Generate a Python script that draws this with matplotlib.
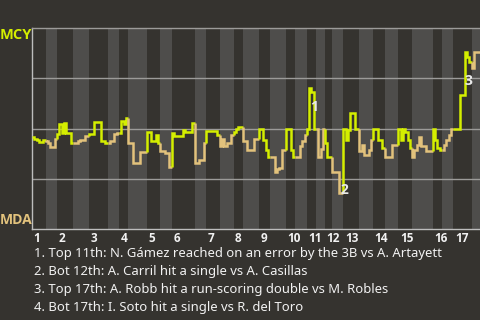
import matplotlib
matplotlib.use("Agg")
import matplotlib.pyplot as plt
import numpy as np

# ---------------- data ----------------
innings = [str(i) for i in range(1, 18)]
# number of plays in each half-inning (top, bottom)
top_plays = [6, 7, 8, 4, 6, 10, 6, 4, 5, 4, 4, 3, 7, 5, 6, 4, 8]
bot_plays = [5, 7, 5, 8, 5, 5, 6, 7, 7, 5, 4, 5, 6, 6, 9, 5, 7]
teams = ["MCY", "MDA"]  # top half batting team, bottom half batting team

# MCY win probability (%) after each play
wp_mcy = [
    46, 45, 44.5, 43.5, 43.5, 44.5,                       # 1T
    44, 43, 41, 41, 45,                                   # 1B
    47.5, 52, 48, 52.5, 48, 48, 43,                       # 2T
    43, 43, 44, 44.5, 44.5, 46.5, 46.5,                   # 2B
    47.5, 47.5, 53, 53, 53, 44, 44, 43,                   # 3T
    43, 44, 44, 47.5, 48,                                 # 3B
    48, 53.5, 52, 55,                                     # 4T
    43, 43, 33, 33, 33, 38.5, 38.5, 38.5,                 # 4B
    48.2, 48.2, 43.7, 43.7, 47, 42.8,                     # 5T
    38.6, 38.6, 37.7, 37.7, 31,                           # 5B
    47.6, 46.3, 46.3, 46.3, 46.3, 49.3, 48.4, 48.4, 48.4, 52.6,  # 6T
    32.7, 32.7, 34.3, 34.3, 42.8,                         # 6B
    48.9, 48.9, 48.9, 48.9, 48.9, 46.8,                   # 7T
    41.3, 44.6, 41.3, 42.8, 42.8, 46.8,                   # 7B
    48.4, 50, 50.9, 50.9,                                 # 8T
    43.7, 43.7, 39.3, 39.3, 39.3, 44.6, 44.6,             # 8B
    49.6, 49.6, 44.3, 39.3, 36,                           # 9T
    36, 36, 28.5, 29.7, 30.2, 39.3, 39.3,                 # 9B
    49.6, 49.6, 39.3, 36,                                 # 10T
    36, 36, 41.5, 43.7, 46.8,                             # 10B
    49.6, 70, 68.3, 49.6,                                 # 11T
    49.6, 36, 40, 50,                                     # 11B
    43, 36, 36,                                           # 12T
    28.5, 28.5, 28.5, 17.8, 17.8,                         # 12B
    49.6, 44.3, 49.3, 57.9, 57.9, 49.6, 49.6,             # 13T
    38.6, 41.8, 36.8, 36.8, 39.3, 44.3,                   # 13B
    50, 50, 44.3, 44.3, 40.3,                             # 14T
    36, 36, 36, 41.8, 41.8, 41.8,                         # 14B
    50, 44.3, 50, 48.4, 44.3, 40.3,                       # 15T
    36, 39.3, 41.8, 45.9, 41.2, 41.2, 38.6, 38.6, 38.6,   # 15B
    50, 44.3, 40.3, 39.3,                                 # 16T
    39.3, 41.8, 44.3, 46.8, 50,                           # 16B
    50, 50, 50, 66.7, 66.7, 88.2, 85.8, 83.3,             # 17T
    80, 88.2, 88.2, 88.2, 88.2, 85, 0,                    # 17B
]

notes = [
    "1. Top 11th: N. Gámez reached on an error by the 3B vs A. Artayett",
    "2. Bot 12th: A. Carril hit a single vs A. Casillas",
    "3. Top 17th: A. Robb hit a run-scoring double vs M. Robles",
    "4. Bot 17th: I. Soto hit a single vs R. del Toro",
]
note_plays = [121, 134, 189, 198]

# ---------------- style ----------------
BG = "#35332f"
BAND = "#4e4d4b"
GRID = "#9c9b99"
SPINE = "#bdbdbd"
COL = {"MCY": "#d4ee00", "MDA": "#e2c27c"}
TXT = "#f2f2f2"
FONT = "Noto Sans"
BFONT = "Open Sans"
label_offsets = [(5, 2), (6, -8), (4, -8), (5, 0)]  # pixels

counts = []
for t, b in zip(top_plays, bot_plays):
    counts += [t, b]
ends = np.cumsum(counts)
starts = np.concatenate([[0], ends[:-1]])
wp = np.array(wp_mcy, dtype=float)

fig = plt.figure(figsize=(4.8, 3.2), dpi=100, facecolor=BG)
ax = fig.add_axes([32 / 480, 91 / 320, 448 / 480, 201 / 320], facecolor=BG)
xmax = 448 / 2.29
ax.set_xlim(0, xmax)
ax.set_ylim(0, 100)

# half-inning bands (bottom halves lighter)
for k, (s, e) in enumerate(zip(starts, ends)):
    if k % 2 == 1:
        ax.axvspan(s, e, color=BAND, lw=0, zorder=0)

for yv in [25, 50, 75]:
    ax.axhline(yv, color=GRID, lw=1.0, zorder=1)

# step line, coloured by the batting team of each half-inning
for k, (s, e) in enumerate(zip(starts, ends)):
    xs, ys = [], []
    if s > 0:
        xs.append(s)
        ys.append(wp[s - 1])
    for i in range(s, e):
        xs += [i, i + 1]
        ys += [wp[i], wp[i]]
    ax.plot(xs, ys, color=COL[teams[k % 2]], lw=1.8,
            solid_joinstyle="miter", solid_capstyle="butt", zorder=3)

# annotation markers
for n, (p, off) in enumerate(zip(note_plays, label_offsets), start=1):
    mid = (wp[p - 1] + wp[p]) / 2
    ax.annotate(str(n), xy=(p, mid), xytext=off, textcoords="offset pixels",
                ha="center", va="center", fontsize=10, fontweight="bold",
                color="#e8e8e8", family=BFONT, zorder=4)

# spines / ticks
ax.spines["right"].set_visible(False)
ax.spines["top"].set_color(GRID)
ax.spines["top"].set_linewidth(1.0)
for side in ["left", "bottom"]:
    ax.spines[side].set_color(SPINE)
    ax.spines[side].set_linewidth(1.0)
ax.set_xticks([])
ax.set_yticks([])

# inning labels at start of each inning
for lab, s in zip(innings, starts[::2]):
    ax.annotate(lab, xy=(s, 0), xycoords=("data", "axes fraction"),
                xytext=(1.5, -3), textcoords="offset pixels",
                ha="left", va="top", fontsize=8.5, fontweight="bold",
                color=TXT, family=BFONT)

# team labels
fig.text(16 / 480, 1 - 35 / 320, teams[0], ha="center", va="center",
         fontsize=10.5, fontweight="bold", color=COL["MCY"], family=BFONT)
fig.text(16 / 480, 1 - 220 / 320, teams[1], ha="center", va="center",
         fontsize=10, fontweight="bold", color=COL["MDA"], family=BFONT)

# footnotes
for j, note in enumerate(notes):
    fig.text(34 / 480, 1 - (254 + 18 * j) / 320, note, ha="left", va="center",
             fontsize=9.4, color=TXT, family=FONT)

fig.savefig("out.png", dpi=100, facecolor=BG)
